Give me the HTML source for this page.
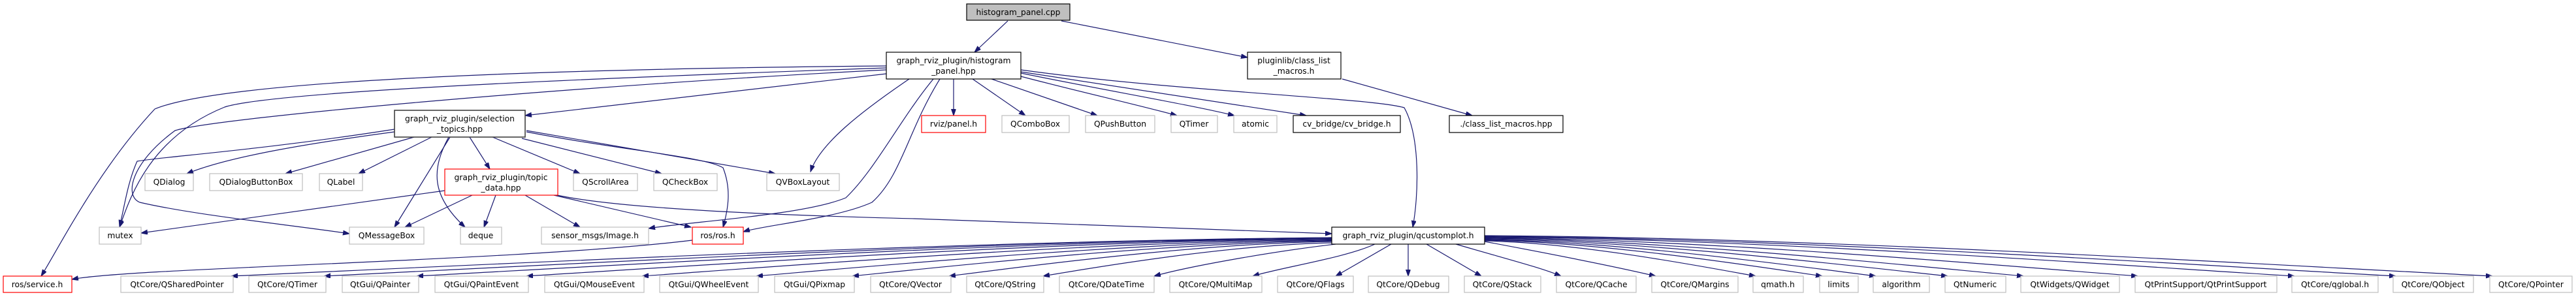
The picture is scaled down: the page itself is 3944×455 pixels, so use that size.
<!DOCTYPE html>
<html><head><meta charset="utf-8"><style>
html,body{margin:0;padding:0;background:#fff;}
svg{display:block;}
text{font-family:"DejaVu Sans","Liberation Sans",sans-serif;font-size:12.3px;fill:#000;text-anchor:middle;}
.e{fill:none;stroke:#191970;stroke-width:1.2;marker-end:url(#a);}
.g{fill:#fff;stroke:#bfbfbf;stroke-width:1.2;}
.b{fill:#fff;stroke:#000;stroke-width:1.2;}
.r{fill:#fff;stroke:#ff0000;stroke-width:1.2;}
</style></head><body>
<svg width="3944" height="455" viewBox="0 0 3944 455" xmlns="http://www.w3.org/2000/svg">
<defs><marker id="a" markerUnits="userSpaceOnUse" markerWidth="11" markerHeight="8" refX="10" refY="3.5" orient="auto"><path d="M0,0 L10,3.5 L0,7 z" fill="#191970" stroke="#191970"/></marker></defs>

<!-- edges -->
<path class="e" d="M1543,32 L1492,80"/>
<path class="e" d="M1625,32 L1910,88"/>
<path class="e" d="M1357,101 C900,105 350,120 237,167 C150,260 90,380 63,423"/>
<path class="e" d="M1357,104 C900,120 420,140 344,164 C230,210 200,300 183,348"/>
<path class="e" d="M1357,107 C900,130 330,180 268,200 C200,250 190,300 214,310 C300,330 450,345 535,358"/>
<path class="e" d="M1357,113 L804,177"/>
<path class="e" d="M1392,121 C1320,170 1255,220 1241,263"/>
<path class="e" d="M1429,121 C1380,180 1340,260 1295,303 C1230,330 1050,340 993,350"/>
<path class="e" d="M1439,121 C1390,200 1380,270 1335,310 C1280,335 1170,345 1138,355"/>
<path class="e" d="M1460,121 L1460,177"/>
<path class="e" d="M1489,121 L1570,177"/>
<path class="e" d="M1518,121 L1680,177"/>
<path class="e" d="M1563,117 C1650,140 1740,160 1802,177"/>
<path class="e" d="M1563,112 C1700,140 1820,160 1890,177"/>
<path class="e" d="M1563,110 L2000,177"/>
<path class="e" d="M1563,107 C1800,140 2100,150 2150,165 C2175,210 2172,300 2163,348"/>
<path class="e" d="M2055,121 L2254,177"/>

<path class="e" d="M604,198 C400,230 250,240 210,247 C195,280 190,320 183,347"/>
<path class="e" d="M604,202 C470,220 350,240 286,266"/>
<path class="e" d="M634,210 L437,266"/>
<path class="e" d="M661,210 L549,266"/>
<path class="e" d="M689,210 L604,348"/>
<path class="e" d="M687,210 C660,260 660,300 712,348"/>
<path class="e" d="M719,210 L750,259"/>
<path class="e" d="M754,210 L888,266"/>
<path class="e" d="M799,212 L1013,266"/>
<path class="e" d="M806,200 L1187,266"/>
<path class="e" d="M806,202 C950,230 1080,240 1107,257 C1120,290 1115,320 1107,348"/>

<path class="e" d="M681,292 L216,357"/>
<path class="e" d="M723,299 L620,348"/>
<path class="e" d="M759,299 L741,348"/>
<path class="e" d="M804,299 L888,348"/>
<path class="e" d="M848,299 L1058,348"/>
<path class="e" d="M853,299 C950,320 1200,330 1400,335 C1650,345 1900,352 2039,358"/>
<path class="e" d="M1060,368 C800,400 200,410 110,428"/>

<!-- qcustomplot edges -->
<path class="e" d="M2039,364 C1449,369 691,408 354,423"/>
<path class="e" d="M2039,364 C1499,369 805,408 496,423"/>
<path class="e" d="M2039,365 C1549,369 918,408 638,423"/>
<path class="e" d="M2039,366 C1607,369 1053,408 806,423"/>
<path class="e" d="M2039,367 C1669,370 1194,408 983,423"/>
<path class="e" d="M2039,368 C1731,371 1334,408 1158,423"/>
<path class="e" d="M2039,369 C1782,372 1452,408 1305,423"/>
<path class="e" d="M2039,370 C1834,373 1570,408 1453,423"/>
<path class="e" d="M2039,372 C1884,375 1685,408 1597,423"/>
<path class="e" d="M2045,374 C1950,385 1820,408 1767,423"/>
<path class="e" d="M2105,374 C2060,395 1960,410 1918,423"/>
<path class="e" d="M2130,374 L2045,423"/>
<path class="e" d="M2156,374 L2156,423"/>
<path class="e" d="M2184,374 L2268,423"/>
<path class="e" d="M2229,374 C2300,395 2360,410 2390,423"/>
<path class="e" d="M2273,370 C2380,390 2480,410 2535,423"/>
<path class="e" d="M2273,369 C2418,372 2605,408 2688,423"/>
<path class="e" d="M2273,368 C2454,371 2687,408 2790,423"/>
<path class="e" d="M2273,367 C2483,370 2752,408 2872,423"/>
<path class="e" d="M2273,366 C2521,369 2840,408 2982,423"/>
<path class="e" d="M2273,365 C2562,368 2933,408 3098,423"/>
<path class="e" d="M2273,364 C2623,367 3073,408 3273,423"/>
<path class="e" d="M2273,363 C2707,366 3265,408 3513,423"/>
<path class="e" d="M2273,362 C2761,365 3389,408 3668,423"/>
<path class="e" d="M2273,361 C2813,364 3507,408 3816,423"/>

<!-- nodes -->
<rect x="1480" y="6" width="158" height="25" fill="#bfbfbf" stroke="#000" stroke-width="1.2"/><text x="1559" y="23">histogram_panel.cpp</text>
<rect class="b" x="1357" y="80" width="206" height="41"/><text x="1460" y="97">graph_rviz_plugin/histogram</text><text x="1460" y="113">_panel.hpp</text>
<rect class="b" x="1910" y="80" width="143" height="41"/><text x="1981" y="97">pluginlib/class_list</text><text x="1981" y="113">_macros.h</text>

<rect class="r" x="1411" y="177" width="98" height="26"/><text x="1460" y="194">rviz/panel.h</text>
<rect class="g" x="1534" y="177" width="103" height="26"/><text x="1585" y="194">QComboBox</text>
<rect class="g" x="1662" y="177" width="106" height="26"/><text x="1715" y="194">QPushButton</text>
<rect class="g" x="1793" y="177" width="71" height="26"/><text x="1828" y="194">QTimer</text>
<rect class="g" x="1889" y="177" width="66" height="26"/><text x="1922" y="194">atomic</text>
<rect class="b" x="1980" y="177" width="164" height="26"/><text x="2062" y="194">cv_bridge/cv_bridge.h</text>
<rect class="b" x="2219" y="177" width="174" height="26"/><text x="2306" y="194">./class_list_macros.hpp</text>

<rect x="604" y="169" width="200" height="41" fill="#fff" stroke="#404040" stroke-width="1.6"/><text x="704" y="186">graph_rviz_plugin/selection</text><text x="704" y="202">_topics.hpp</text>

<rect class="g" x="222" y="266" width="74" height="26"/><text x="259" y="283">QDialog</text>
<rect class="g" x="321" y="266" width="142" height="26"/><text x="392" y="283">QDialogButtonBox</text>
<rect class="g" x="489" y="266" width="66" height="26"/><text x="522" y="283">QLabel</text>
<rect class="r" x="681" y="259" width="173" height="40"/><text x="767" y="276">graph_rviz_plugin/topic</text><text x="767" y="292">_data.hpp</text>
<rect class="g" x="878" y="266" width="98" height="26"/><text x="927" y="283">QScrollArea</text>
<rect class="g" x="1001" y="266" width="97" height="26"/><text x="1049" y="283">QCheckBox</text>
<rect class="g" x="1174" y="266" width="111" height="26"/><text x="1229" y="283">QVBoxLayout</text>

<rect class="g" x="152" y="348" width="64" height="26"/><text x="184" y="365">mutex</text>
<rect class="g" x="535" y="348" width="114" height="26"/><text x="592" y="365">QMessageBox</text>
<rect class="g" x="705" y="348" width="63" height="26"/><text x="736" y="365">deque</text>
<rect class="g" x="829" y="348" width="164" height="26"/><text x="911" y="365">sensor_msgs/Image.h</text>
<rect class="r" x="1060" y="348" width="78" height="26"/><text x="1099" y="365">ros/ros.h</text>
<rect class="b" x="2039" y="348" width="234" height="26"/><text x="2156" y="365">graph_rviz_plugin/qcustomplot.h</text>

<rect class="r" x="5" y="423" width="105" height="25"/><text x="57" y="440">ros/service.h</text>
<rect class="g" x="185" y="423" width="172" height="25"/><text x="271" y="440">QtCore/QSharedPointer</text>
<rect class="g" x="381" y="423" width="118" height="25"/><text x="440" y="440">QtCore/QTimer</text>
<rect class="g" x="524" y="423" width="117" height="25"/><text x="582" y="440">QtGui/QPainter</text>
<rect class="g" x="666" y="423" width="143" height="25"/><text x="737" y="440">QtGui/QPaintEvent</text>
<rect class="g" x="834" y="423" width="152" height="25"/><text x="910" y="440">QtGui/QMouseEvent</text>
<rect class="g" x="1010" y="423" width="151" height="25"/><text x="1085" y="440">QtGui/QWheelEvent</text>
<rect class="g" x="1186" y="423" width="122" height="25"/><text x="1247" y="440">QtGui/QPixmap</text>
<rect class="g" x="1333" y="423" width="123" height="25"/><text x="1394" y="440">QtCore/QVector</text>
<rect class="g" x="1480" y="423" width="118" height="25"/><text x="1539" y="440">QtCore/QString</text>
<rect class="g" x="1622" y="423" width="145" height="25"/><text x="1694" y="440">QtCore/QDateTime</text>
<rect class="g" x="1791" y="423" width="141" height="25"/><text x="1861" y="440">QtCore/QMultiMap</text>
<rect class="g" x="1956" y="423" width="116" height="25"/><text x="2014" y="440">QtCore/QFlags</text>
<rect class="g" x="2095" y="423" width="123" height="25"/><text x="2156" y="440">QtCore/QDebug</text>
<rect class="g" x="2242" y="423" width="117" height="25"/><text x="2300" y="440">QtCore/QStack</text>
<rect class="g" x="2383" y="423" width="122" height="25"/><text x="2444" y="440">QtCore/QCache</text>
<rect class="g" x="2529" y="423" width="132" height="25"/><text x="2595" y="440">QtCore/QMargins</text>
<rect class="g" x="2684" y="423" width="77" height="25"/><text x="2722" y="440">qmath.h</text>
<rect class="g" x="2786" y="423" width="59" height="25"/><text x="2815" y="440">limits</text>
<rect class="g" x="2868" y="423" width="86" height="25"/><text x="2911" y="440">algorithm</text>
<rect class="g" x="2978" y="423" width="93" height="25"/><text x="3024" y="440">QtNumeric</text>
<rect class="g" x="3094" y="423" width="151" height="25"/><text x="3169" y="440">QtWidgets/QWidget</text>
<rect class="g" x="3269" y="423" width="217" height="25"/><text x="3377" y="440">QtPrintSupport/QtPrintSupport</text>
<rect class="g" x="3509" y="423" width="132" height="25"/><text x="3575" y="440">QtCore/qglobal.h</text>
<rect class="g" x="3664" y="423" width="123" height="25"/><text x="3725" y="440">QtCore/QObject</text>
<rect class="g" x="3812" y="423" width="126" height="25"/><text x="3875" y="440">QtCore/QPointer</text>
</svg>
</body></html>
